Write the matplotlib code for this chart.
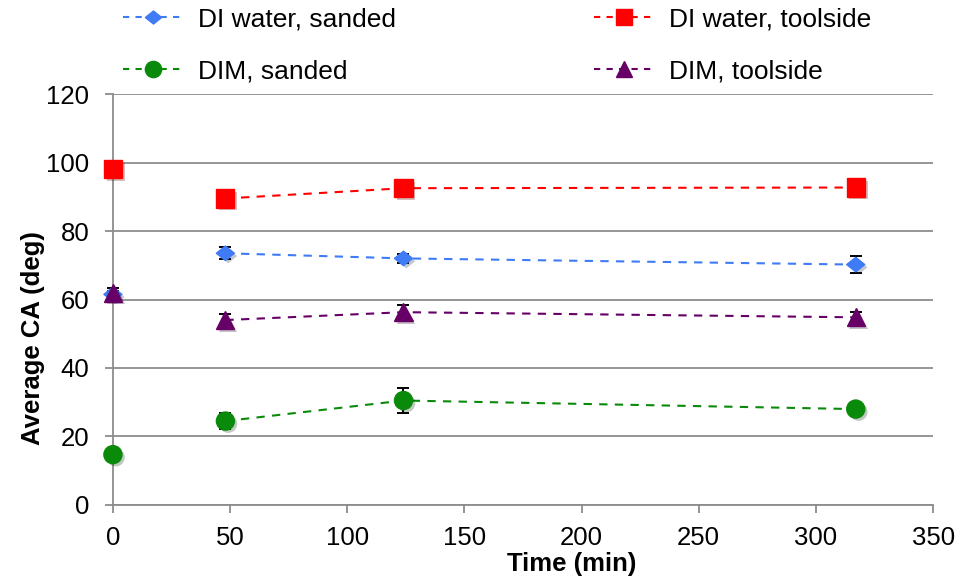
import numpy as np
import matplotlib.pyplot as plt
import matplotlib.patheffects as pe
from matplotlib.path import Path

plt.rcParams['font.family'] = ['Liberation Sans', 'DejaVu Sans']

# время, мин
t = [0, 48, 124, 317]

di_sanded = [61.5, 73.5, 72.0, 70.2]
di_sanded_err = [1.0, 1.8, 1.2, 2.5]
di_tool = [98.0, 89.5, 92.5, 92.7]
di_tool_err = [0.8, 1.5, 1.5, 1.2]
dim_sanded = [14.7, 24.5, 30.5, 28.0]
dim_sanded_err = [0.8, 2.3, 3.7, 1.0]
dim_tool = [62.0, 54.0, 56.3, 54.8]
dim_tool_err = [1.5, 1.8, 2.2, 1.5]

# приплюснутый ромб, как в Excel
diamond = Path([(0, -0.8), (1, 0), (0, 0.8), (-1, 0), (0, -0.8)],
               [Path.MOVETO, Path.LINETO, Path.LINETO, Path.LINETO, Path.CLOSEPOLY])

series = [
    ('DI water, sanded', di_sanded, di_sanded_err, '#3f7bf5', diamond, 13),
    ('DIM, sanded', dim_sanded, dim_sanded_err, '#0a8a0a', 'o', 13),
    ('DI water, toolside', di_tool, di_tool_err, '#ff0000', 's', 13),
    ('DIM, toolside', dim_tool, dim_tool_err, '#660066', '^', 13),
]

fig = plt.figure(figsize=(9.57, 5.84), dpi=100)
ax = fig.add_axes([0.118, 0.1353, 0.857, 0.7037])

shadow = [pe.SimplePatchShadow(offset=(2, -2), alpha=0.25), pe.Normal()]
for name, y, err, c, m, ms in series:
    ax.errorbar(t, y, yerr=err, fmt='none', ecolor='black', elinewidth=1.4,
                capsize=4, capthick=1.4, zorder=3, clip_on=False)
    # линия без первой точки (t=0 не соединена)
    ax.plot(t[1:], y[1:], '--', color=c, lw=1.5, dashes=(4, 3.5), zorder=2)
    ax.plot(t, y, linestyle='none', marker=m, color=c, markersize=ms,
            path_effects=shadow, zorder=4, clip_on=False)
    ax.plot([], [], '--', dashes=(3, 3), color=c, lw=1.5, marker=m,
            markersize=ms * 0.9, label=name)

ax.set_xlim(0, 350)
ax.set_ylim(0, 120)
ax.set_xticks(np.arange(0, 351, 50))
ax.set_yticks(np.arange(0, 121, 20))
ax.grid(axis='y', color='#8c8c8c', lw=1.3)
ax.set_axisbelow(True)
for s in ['top', 'right']:
    ax.spines[s].set_visible(False)
for s in ['left', 'bottom']:
    ax.spines[s].set_color('#8c8c8c')
    ax.spines[s].set_linewidth(1.3)
ax.tick_params(colors='#8c8c8c', length=6, width=1.3, labelcolor='black',
               labelsize=18.5)
ax.tick_params(axis='y', pad=11)
ax.tick_params(axis='x', pad=9)
ax.set_xlabel('Time (min)', fontsize=18.5, fontweight='bold')
ax.set_ylabel('Average CA (deg)', fontsize=18.5, fontweight='bold')
ax.xaxis.set_label_coords(0.559, -0.115)
ax.yaxis.set_label_coords(-0.083, 0.405)

fig.legend(ncol=2, loc='upper left', bbox_to_anchor=(0.1285, 0.988),
           frameon=False, fontsize=19, handlelength=2.3, columnspacing=7.5,
           labelspacing=1.08, handletextpad=0.55, borderpad=0,
           borderaxespad=0)

fig.savefig('out.png', dpi=100)
